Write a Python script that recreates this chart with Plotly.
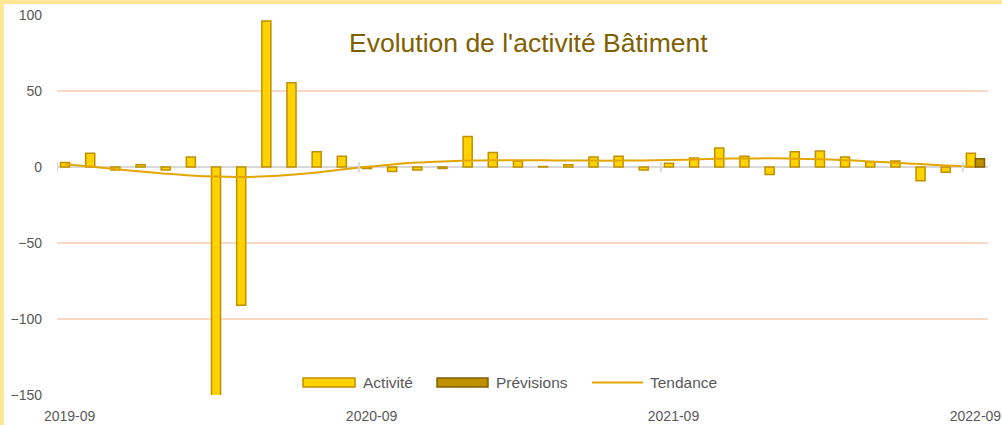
import pandas as pd
import plotly.graph_objects as go

# Monthly categories (2019-09 .. 2022-09)
months = list(pd.period_range("2019-09", "2022-09", freq="M").strftime("%Y-%m"))

# Activity index (monthly change)
activite = [3, 9, -2, 1.5, -2, 6.5, -152, -91, 96, 55.5, 10, 7,
            -1, -3, -2, -1, 20, 9.5, 4, 0.3, 1.5, 6.5, 7, -2,
            2.5, 6, 12.5, 7, -5, 10, 10.5, 6.5, 3.5, 4, -9, -3.5, 9]

# Forecast (only the last month)
previsions = [None] * 36 + [5.5]

# Smoothed trend of the activity series
tendance = [1.8, 0.3, -1.4, -3.0, -4.4, -5.6, -6.3, -6.5, -6.1, -5.1, -3.6, -1.7,
            0.1, 1.7, 2.9, 3.7, 4.2, 4.4, 4.5, 4.4, 4.3, 4.2, 4.2, 4.3,
            4.6, 5.0, 5.4, 5.6, 5.7, 5.5, 5.1, 4.5, 3.7, 2.8, 1.9, 1.0, 0.3]

y_ticks = [-150, -100, -50, 0, 50, 100]
label_months = ["2019-09", "2020-09", "2021-09", "2022-09"]

W, H = 1002, 425
ML, MR, MT, MB = 57, 14, 15, 30
PW, PH = W - ML - MR, H - MT - MB

FONT = "Liberation Sans, Arial, sans-serif"
GREY = "#595959"
BAR_FILL, BAR_LINE = "#FFD200", "#BF9000"
PREV_FILL, PREV_LINE = "#BF9000", "#7F6000"
TREND = "#E3A600"
GRID = "#F9D8C5"
BARGAP = 0.28


def px_x(p):
    return (p - ML) / PW


def px_y(p):
    return (H - MB - p) / PH


idx = list(range(len(months)))
label_idx = [months.index(m) for m in label_months]
trend_x = [i - (1 - BARGAP) / 4 for i in idx]

fig = go.Figure()
fig.add_trace(go.Bar(x=idx, y=activite, name="Activité",
                     marker=dict(color=BAR_FILL, line=dict(color=BAR_LINE, width=1.5)),
                     showlegend=False))
fig.add_trace(go.Bar(x=idx, y=previsions, name="Prévisions",
                     marker=dict(color=PREV_FILL, line=dict(color=PREV_LINE, width=1.5)),
                     showlegend=False))
fig.add_trace(go.Scatter(x=trend_x, y=tendance, name="Tendance", mode="lines",
                         line=dict(color=TREND, width=2, shape="spline"),
                         showlegend=False))

shapes = []
# white chart area inside the coloured frame
shapes.append(dict(type="rect", xref="paper", yref="paper", layer="below",
                   x0=px_x(4), x1=px_x(W + 10), y0=px_y(H + 10), y1=px_y(4),
                   fillcolor="white", line=dict(width=0)))
# tick marks across the category axis, every 12 months
for b in [i - 0.5 for i in label_idx]:
    shapes.append(dict(type="line", xref="x", yref="y", ysizemode="pixel", yanchor=0,
                       x0=b, x1=b, y0=-5, y1=5,
                       line=dict(color="#D9D9D9", width=2)))

# legend
leg_y = 382.5
legend_items = [
    ("rect", 303, 355, BAR_FILL, BAR_LINE, "Activité", 361),
    ("rect", 437, 488, PREV_FILL, PREV_LINE, "Prévisions", 494),
    ("line", 592, 643, None, TREND, "Tendance", 648),
]
annotations = []
for kind, x0, x1, fill, edge, text, tx in legend_items:
    if kind == "rect":
        shapes.append(dict(type="rect", xref="paper", yref="paper",
                           x0=px_x(x0), x1=px_x(x1), y0=px_y(leg_y + 4.5), y1=px_y(leg_y - 4.5),
                           fillcolor=fill, line=dict(color=edge, width=1.5)))
    else:
        shapes.append(dict(type="line", xref="paper", yref="paper",
                           x0=px_x(x0), x1=px_x(x1), y0=px_y(leg_y), y1=px_y(leg_y),
                           line=dict(color=edge, width=2)))
    annotations.append(dict(text=text, xref="paper", yref="paper", x=px_x(tx), y=px_y(leg_y),
                            xanchor="left", yanchor="middle", showarrow=False,
                            font=dict(family=FONT, size=15.5, color=GREY)))

annotations.append(dict(text="Evolution de l'activité Bâtiment", xref="paper", yref="paper",
                        x=px_x(528), y=px_y(43), xanchor="center", yanchor="middle",
                        showarrow=False, font=dict(family=FONT, size=26.5, color="#7F6000")))

fig.update_layout(
    width=W, height=H,
    margin=dict(l=ML, r=MR, t=MT, b=MB, pad=0, autoexpand=False),
    paper_bgcolor="#FFE699", plot_bgcolor="white",
    barmode="group", bargap=BARGAP, bargroupgap=0,
    shapes=shapes, annotations=annotations,
    showlegend=False,
    xaxis=dict(range=[-0.5, len(months) - 0.5], tickmode="array", tickvals=label_idx,
               ticktext=label_months, showgrid=False, zeroline=False, showline=False,
               ticks="", ticklabelstandoff=11, automargin=False,
               tickfont=dict(family=FONT, size=14, color=GREY)),
    yaxis=dict(range=[-150, 100], tickmode="array", tickvals=y_ticks,
               showgrid=True, gridcolor=GRID, gridwidth=1.5,
               zeroline=True, zerolinecolor="#D9D9D9", zerolinewidth=2,
               showline=False, ticks="", ticklabelstandoff=14, automargin=False,
               tickfont=dict(family=FONT, size=14, color=GREY)),
)

fig.write_html("out.html")
